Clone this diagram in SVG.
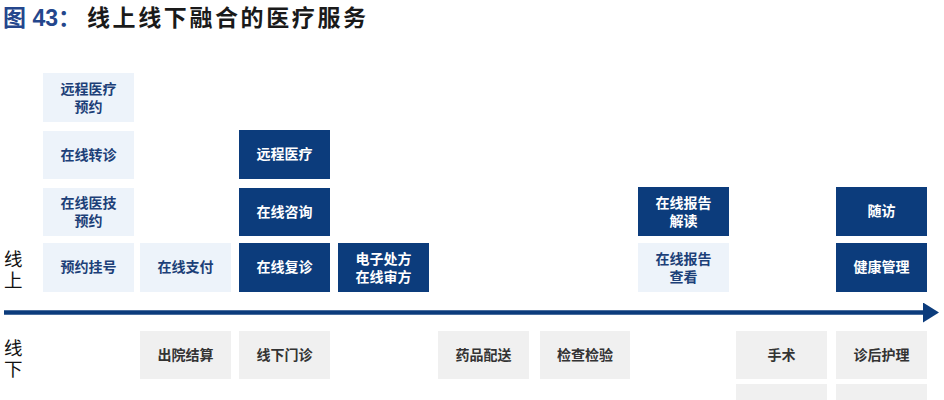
<svg xmlns="http://www.w3.org/2000/svg" width="944" height="400" viewBox="0 0 944 400">
<style>
text{font-family:"Liberation Sans","Noto Sans CJK SC",sans-serif;}
.lt rect{fill:#edf3fa;}
.lt text{fill:#1c3f78;font-size:14px;font-weight:bold;text-anchor:middle;}
.dk rect{fill:#0c3c7c;}
.dk text{fill:#ffffff;font-size:14px;font-weight:bold;text-anchor:middle;}
.gr rect{fill:#f0f0f0;}
.gr text{fill:#333333;font-size:14px;font-weight:bold;text-anchor:middle;}
.side{font-size:18.5px;fill:#111;}
</style>
<defs>
<marker id="arr" markerUnits="userSpaceOnUse" markerWidth="18" markerHeight="20" refX="0" refY="10" orient="auto">
<path d="M0,0 L16,10 L0,20 Z" fill="#0c3c7c"/>
</marker>
</defs>
<rect width="944" height="400" fill="#ffffff"/>
<g id="title">
<text x="3" y="26" font-size="23" font-weight="bold" fill="#24468c">图 43：</text>
<text x="87" y="26" font-size="23" font-weight="bold" fill="#1a1a1a" letter-spacing="2.6">线上线下融合的医疗服务</text>
</g>
<g id="labels">
<text class="side"><tspan x="4" y="265.5">线</tspan><tspan x="4" y="286.5">上</tspan></text>
<text class="side"><tspan x="4" y="354.5">线</tspan><tspan x="4" y="375.5">下</tspan></text>
</g>
<g id="connectors">
<line x1="4" y1="312.5" x2="923" y2="312.5" stroke="#0c3c7c" stroke-width="4.5" marker-end="url(#arr)"/>
</g>
<g id="n1" class="lt"><rect x="43" y="73" width="91" height="49"/><text><tspan x="88.5" y="94">远程医疗</tspan><tspan x="88.5" y="112">预约</tspan></text></g>
<g id="n2" class="lt"><rect x="43" y="131" width="91" height="48"/><text x="88.5" y="160">在线转诊</text></g>
<g id="n3" class="lt"><rect x="43" y="188" width="91" height="48"/><text><tspan x="88.5" y="208">在线医技</tspan><tspan x="88.5" y="226">预约</tspan></text></g>
<g id="n4" class="lt"><rect x="43" y="243" width="91" height="49"/><text x="88.5" y="272">预约挂号</text></g>
<g id="n5" class="lt"><rect x="140" y="243" width="91" height="49"/><text x="185.5" y="272">在线支付</text></g>
<g id="n6" class="dk"><rect x="239" y="130" width="91" height="49"/><text x="284.5" y="159">远程医疗</text></g>
<g id="n7" class="dk"><rect x="239" y="188" width="91" height="48"/><text x="284.5" y="217">在线咨询</text></g>
<g id="n8" class="dk"><rect x="239" y="243" width="91" height="49"/><text x="284.5" y="272">在线复诊</text></g>
<g id="n9" class="dk"><rect x="338" y="243" width="91" height="49"/><text><tspan x="383.5" y="264">电子处方</tspan><tspan x="383.5" y="282">在线审方</tspan></text></g>
<g id="n10" class="dk"><rect x="638" y="187" width="91" height="49"/><text><tspan x="683.5" y="208">在线报告</tspan><tspan x="683.5" y="226">解读</tspan></text></g>
<g id="n11" class="lt"><rect x="638" y="243" width="91" height="49"/><text><tspan x="683.5" y="264">在线报告</tspan><tspan x="683.5" y="282">查看</tspan></text></g>
<g id="n12" class="dk"><rect x="836" y="187" width="91" height="49"/><text x="881.5" y="216">随访</text></g>
<g id="n13" class="dk"><rect x="836" y="243" width="91" height="49"/><text x="881.5" y="272">健康管理</text></g>
<g id="n14" class="gr"><rect x="140" y="331" width="91" height="48"/><text x="185.5" y="360">出院结算</text></g>
<g id="n15" class="gr"><rect x="239" y="331" width="91" height="48"/><text x="284.5" y="360">线下门诊</text></g>
<g id="n16" class="gr"><rect x="438" y="331" width="91" height="48"/><text x="483.5" y="360">药品配送</text></g>
<g id="n17" class="gr"><rect x="540" y="331" width="90" height="48"/><text x="585" y="360">检查检验</text></g>
<g id="n18" class="gr"><rect x="736" y="331" width="91" height="48"/><text x="781.5" y="360">手术</text></g>
<g id="n19" class="gr"><rect x="836" y="331" width="91" height="48"/><text x="881.5" y="360">诊后护理</text></g>
<g id="n20" class="gr"><rect x="736" y="384" width="91" height="20"/></g>
<g id="n21" class="gr"><rect x="836" y="384" width="91" height="20"/></g>
</svg>
